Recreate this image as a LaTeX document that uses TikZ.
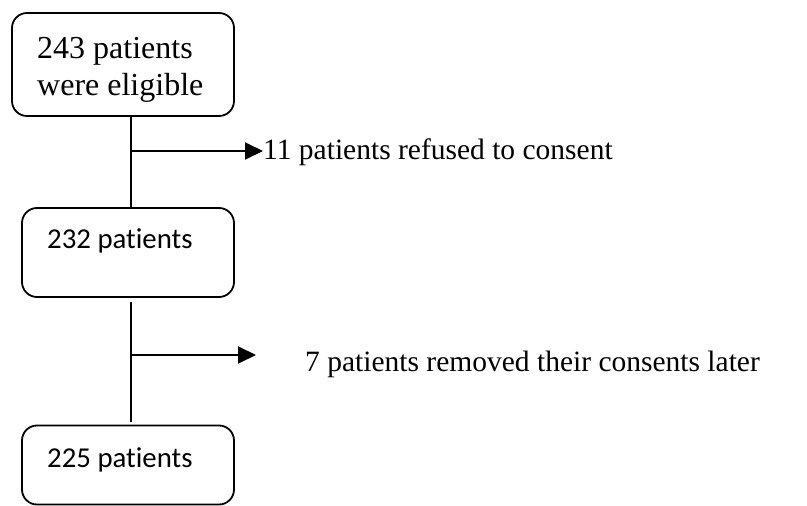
\documentclass[tikz,border=0pt]{standalone}
\usepackage{fontspec}
\setmainfont{Liberation Serif}
\newfontfamily\calfont[Ligatures=NoCommon]{Carlito}
\usetikzlibrary{arrows.meta}
\begin{document}
\begin{tikzpicture}[x=1pt,y=-1pt,
  box/.style={draw,line width=1.8pt,rounded corners=15pt,inner sep=0pt},
  txt/.style={anchor=base west,inner sep=0pt},
  conn/.style={line width=1.8pt},
  arr/.style={line width=2pt,-{Triangle[length=18pt,width=17pt]}}]
\useasboundingbox (0,0) rectangle (807,506);
\node[box,minimum width=222pt,minimum height=103pt] (b1) at (123,64.5) {};
\node[box,minimum width=212pt,minimum height=89pt] (b2) at (128,252.5) {};
\node[box,minimum width=212pt,minimum height=79pt] (b3) at (128,465) {};
\node[txt,font=\fontsize{32}{37}\selectfont] (b1a) at (37,58) {243 patients};
\node[txt,font=\fontsize{32}{37}\selectfont] (b1b) at (37,95) {were eligible};
\node[txt,font=\calfont\fontsize{28.8}{34}\selectfont] (b2t) at (47,248) {232 patients};
\node[txt,font=\calfont\fontsize{28.8}{34}\selectfont] (b3t) at (47,467) {225 patients};
\node[txt,font=\fontsize{29.5}{35}\selectfont] (t1) at (263,159) {11 patients refused to consent};
\node[txt,font=\fontsize{29.5}{35}\selectfont] (t2) at (305,371) {7 patients removed their consents later};
\coordinate (j1) at (131,151);
\coordinate (j2) at (131,355);
\coordinate (l2a) at (131,302);
\coordinate (l2b) at (131,422);
\coordinate (e2) at (256,355);
\draw[conn] (j1 |- b1.south) -- (j1 |- b2.north);
\draw[arr] (j1) -- (j1 -| t1.west);
\draw[conn] (l2a) -- (l2b);
\draw[arr] (j2) -- (e2);
\end{tikzpicture}
\end{document}
